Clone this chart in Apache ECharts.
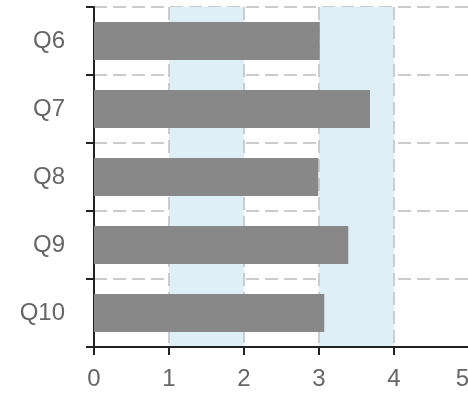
<!DOCTYPE html>
<html>
<head>
<meta charset="utf-8">
<script src="https://cdn.jsdelivr.net/npm/echarts@6/dist/echarts.min.js"></script>
<style>html,body{margin:0;padding:0;background:#fff;}#c{width:468px;height:393px;}</style>
</head>
<body>
<div id="c"></div>
<script>
var categories = ['Q6', 'Q7', 'Q8', 'Q9', 'Q10'];
var values = [3.01, 3.68, 2.99, 3.39, 3.07];
var xTicks = [0, 1, 2, 3, 4, 5];

var chart = echarts.init(document.getElementById('c'), null, {renderer: 'canvas'});
chart.setOption({
  animation: false,
  grid: {left: 94, top: 7, width: 375, height: 340, containLabel: false, outerBoundsMode: 'none'},
  xAxis: {
    type: 'value', min: xTicks[0], max: xTicks[xTicks.length - 1], interval: 1,
    axisLine: {show: true, lineStyle: {color: '#222', width: 2}},
    axisTick: {show: true, length: 8, lineStyle: {color: '#222', width: 2}},
    axisLabel: {color: '#666', fontSize: 24, fontFamily: 'Liberation Sans', margin: 20, alignMaxLabel: 'right'},
    splitLine: {show: true, lineStyle: {color: '#cccccc', width: 2, type: [13, 6]}},
    splitArea: {show: true, areaStyle: {color: ['rgba(255,255,255,0)', '#dfeff8']}}
  },
  yAxis: {
    type: 'category', data: categories, inverse: true,
    axisLine: {show: true, lineStyle: {color: '#222', width: 2}},
    axisTick: {show: true, length: 8, lineStyle: {color: '#222', width: 2}},
    axisLabel: {color: '#666', fontSize: 24, fontFamily: 'Liberation Sans', margin: 29, padding: [4, 0, 0, 0]},
    splitLine: {show: true, lineStyle: {color: '#cccccc', width: 2, type: [13, 6]}}
  },
  series: [{
    type: 'bar', data: values, barWidth: 38,
    itemStyle: {color: '#888888'}
  }]
});
</script>
</body>
</html>
